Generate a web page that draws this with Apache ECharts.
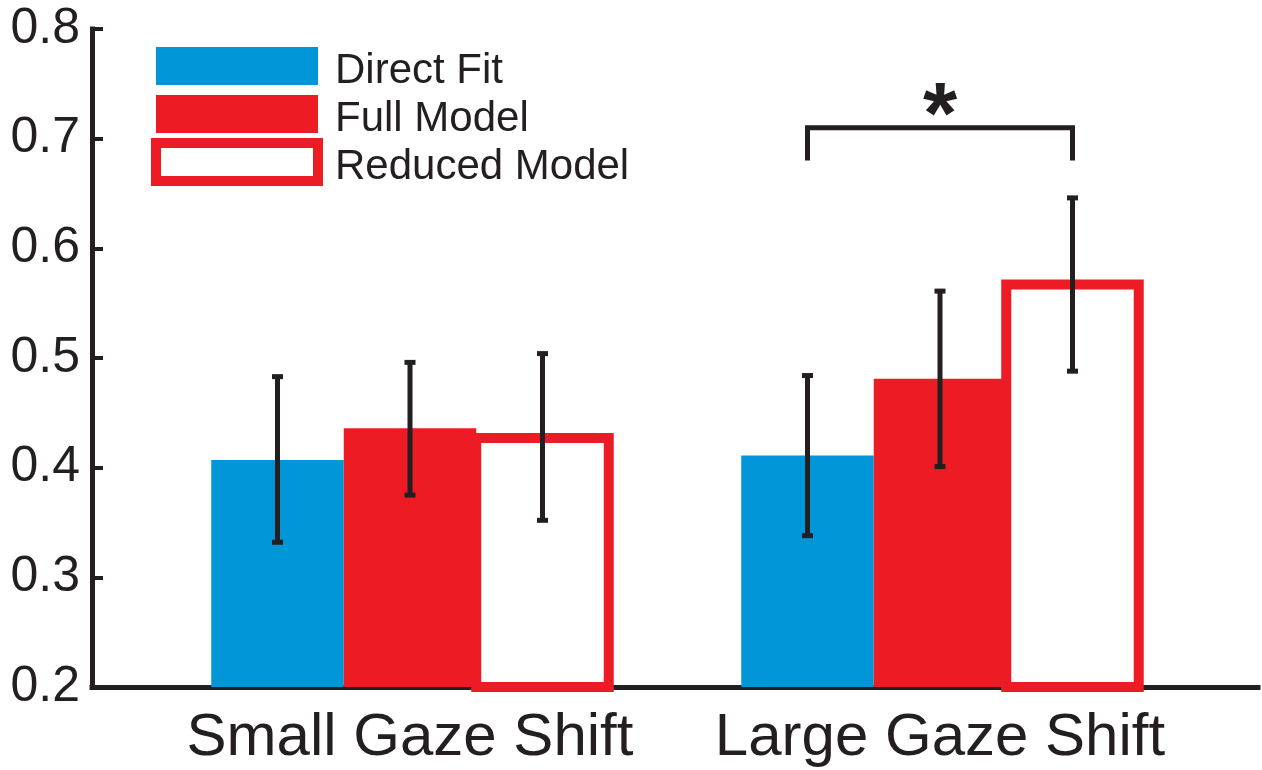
<!DOCTYPE html>
<html>
<head>
<meta charset="utf-8">
<script src="https://cdn.jsdelivr.net/npm/echarts@6/dist/echarts.min.js"></script>
<style>
  html, body { margin: 0; padding: 0; background: #ffffff; }
  #chart { width: 1262px; height: 770px; }
</style>
</head>
<body>
<div id="chart"></div>
<script>
// ---- data ----
const categories = ['Small Gaze Shift', 'Large Gaze Shift'];
const seriesNames = ['Direct Fit', 'Full Model', 'Reduced Model'];
const directFit = [0.407, 0.411];
const fullModel = [0.436, 0.481];
const reducedModel = [0.427, 0.567];
// error bar extents [low, high] per category
const directFitErr = [[0.332, 0.483], [0.338, 0.484]];
const fullModelErr = [[0.375, 0.496], [0.401, 0.561]];
const reducedModelErr = [[0.352, 0.504], [0.488, 0.646]];
// y axis range
const yMin = 0.2, yMax = 0.8, yStep = 0.1;
// significance bracket: category index, compared series, leg bottom / bracket top values
const significance = [{ category: 1, from: 0, to: 2, legLow: 0.68, top: 0.71, mark: '*' }];

// ---- style ----
const BLUE = '#0096d8';
const RED = '#ed1c24';
const INK = '#231f20';
const FONT = '"Liberation Sans", Arial, Helvetica, sans-serif';
const BAR_W = 0.25;                 // bar width in x-axis units
const OFFSETS = [-BAR_W, 0, BAR_W]; // bar offsets inside a group

const values = [directFit, fullModel, reducedModel];
const errs = [directFitErr, fullModelErr, reducedModelErr];
const barStyles = [
  { fill: BLUE, stroke: null, lineWidth: 0 },
  { fill: RED, stroke: null, lineWidth: 0 },
  { fill: '#ffffff', stroke: RED, lineWidth: 10 }
];

function barRenderer(k) {
  return function (params, api) {
    const x = api.value(0) + OFFSETS[k];
    const v = api.value(1);
    const tl = api.coord([x - BAR_W / 2, v]);
    const br = api.coord([x + BAR_W / 2, yMin]);
    const st = barStyles[k];
    return {
      type: 'rect',
      shape: { x: tl[0], y: tl[1], width: br[0] - tl[0], height: br[1] - tl[1] },
      style: { fill: st.fill, stroke: st.stroke, lineWidth: st.lineWidth }
    };
  };
}

const barSeries = seriesNames.map((name, k) => ({
  type: 'custom',
  name: name,
  renderItem: barRenderer(k),
  itemStyle: k === 2 ? { color: '#ffffff', borderColor: RED, borderWidth: 10 } : { color: barStyles[k].fill },
  data: categories.map((c, i) => [i + 1, values[k][i]]),
  z: 2 + k
}));

const errData = [];
errs.forEach((arr, k) => arr.forEach((e, i) => errData.push([i + 1 + OFFSETS[k], e[0], e[1]])));

const errSeries = {
  type: 'custom',
  name: 'errors',
  z: 10,
  renderItem: function (params, api) {
    const x = api.value(0);
    const lo = api.coord([x, api.value(1)]);
    const hi = api.coord([x, api.value(2)]);
    const cap = 5.5;
    const ls = { stroke: INK, lineWidth: 5 };
    return {
      type: 'group',
      children: [
        { type: 'line', shape: { x1: lo[0], y1: lo[1], x2: hi[0], y2: hi[1] }, style: ls },
        { type: 'line', shape: { x1: lo[0] - cap, y1: lo[1], x2: lo[0] + cap, y2: lo[1] }, style: ls },
        { type: 'line', shape: { x1: hi[0] - cap, y1: hi[1], x2: hi[0] + cap, y2: hi[1] }, style: ls }
      ]
    };
  },
  data: errData
};

const sigSeries = {
  type: 'custom',
  name: 'significance',
  z: 11,
  renderItem: function (params, api) {
    const s = significance[params.dataIndex];
    const g = s.category + 1;
    const a = api.coord([g + OFFSETS[s.from], s.legLow]);
    const b = api.coord([g + OFFSETS[s.to], s.legLow]);
    const t = api.coord([g, s.top]);
    return {
      type: 'group',
      children: [
        {
          type: 'polyline',
          shape: { points: [[a[0], a[1]], [a[0], t[1]], [b[0], t[1]], [b[0], b[1]]] },
          style: { stroke: INK, lineWidth: 5, fill: null }
        },
        {
          type: 'text',
          x: t[0], y: t[1] - 9,
          style: {
            text: s.mark, fill: INK, fontSize: 88, fontWeight: 'bold', fontFamily: FONT,
            align: 'center', verticalAlign: 'middle'
          }
        }
      ]
    };
  },
  data: significance.map((s, i) => [i])
};

const chart = echarts.init(document.getElementById('chart'), null, { renderer: 'canvas' });
chart.setOption({
  animation: false,
  backgroundColor: '#ffffff',
  textStyle: { fontFamily: FONT, color: INK },
  grid: { left: 92, right: 4, top: 29, bottom: 83, containLabel: false, outerBoundsMode: 'none' },
  legend: {
    orient: 'vertical',
    left: 151,
    top: 40,
    padding: 0,
    itemWidth: 162,
    itemHeight: 38,
    itemGap: -4,
    icon: 'rect',
    selectedMode: false,
    formatter: '{t|{name}}',
    textStyle: {
      fontSize: 42, color: INK, fontFamily: FONT, padding: [0, 0, 0, 12],
      rich: { t: { fontSize: 42, color: INK, fontFamily: FONT, lineHeight: 28, padding: [10, 0, 0, 0] } }
    },
    data: [
      { name: seriesNames[0], itemStyle: { color: BLUE, borderWidth: 0 } },
      { name: seriesNames[1], itemStyle: { color: RED, borderWidth: 0 } },
      { name: seriesNames[2], itemStyle: { color: '#ffffff', borderColor: RED, borderWidth: 10 } }
    ]
  },
  xAxis: {
    type: 'value',
    min: 0.4,
    max: 2.6,
    interval: 0.2,
    splitLine: { show: false },
    axisTick: { show: false },
    axisLine: { show: true, lineStyle: { color: INK, width: 5, cap: 'square' } },
    axisLabel: {
      fontSize: 60,
      lineHeight: 60,
      color: INK,
      fontFamily: FONT,
      margin: 21,
      formatter: function (v) {
        const i = Math.round(v);
        if (Math.abs(v - i) < 1e-6 && i >= 1 && i <= categories.length) return categories[i - 1];
        return '';
      }
    }
  },
  yAxis: {
    type: 'value',
    min: yMin,
    max: yMax,
    interval: yStep,
    splitLine: { show: false },
    axisLine: { show: true, lineStyle: { color: INK, width: 5, cap: 'square' } },
    axisTick: { show: true, inside: true, length: 11, lineStyle: { color: INK, width: 4 } },
    axisLabel: {
      fontSize: 50,
      color: INK,
      fontFamily: FONT,
      margin: 12,
      formatter: function (v) { return v.toFixed(1); }
    }
  },
  series: barSeries.concat([errSeries, sigSeries])
});
</script>
</body>
</html>
